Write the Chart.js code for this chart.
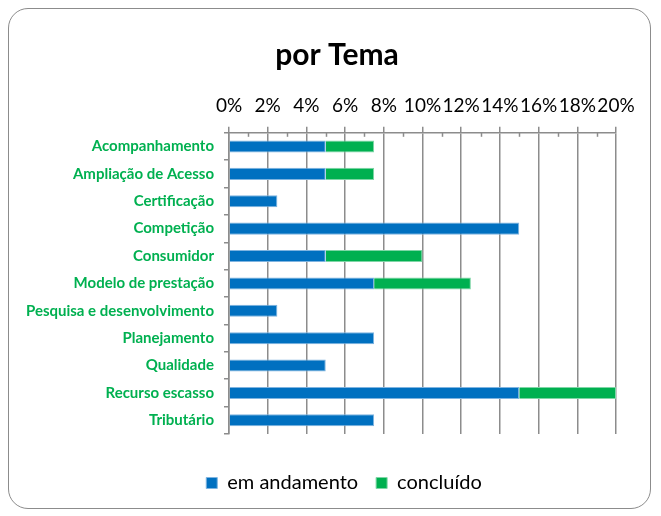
<!DOCTYPE html>
<html>
<head>
<meta charset="utf-8">
<script src="https://cdn.jsdelivr.net/npm/chart.js@4"></script>
<style>
  html, body { margin: 0; padding: 0; background: #fff; }
  #wrap { position: relative; width: 661px; height: 516px; }
  #frame { position: absolute; left: 8px; top: 8px; width: 643px; height: 501px;
           border: 1.5px solid #8c8c8c; border-radius: 20px; box-sizing: border-box; }
  canvas { position: absolute; left: 0; top: 0; }
</style>
</head>
<body>
<div id="wrap">
  <div id="frame"></div>
  <canvas id="myChart" width="661" height="516"></canvas>
</div>
<script>
var temas = ["Acompanhamento", "Ampliação de Acesso", "Certificação", "Competição", "Consumidor",
  "Modelo de prestação", "Pesquisa e desenvolvimento", "Planejamento", "Qualidade", "Recurso escasso", "Tributário"];
var emAndamento = [5, 5, 2.5, 15, 5, 7.5, 2.5, 7.5, 5, 15, 7.5];
var concluido = [2.5, 2.5, 0, 0, 5, 5, 0, 0, 0, 5, 0];
var seriesNames = ["em andamento", "concluído"];

var fontFam = "Lato, 'Open Sans', sans-serif";

// small minor ticks on top axis (every 1%)
var minorTicks = {
  id: "minorTicks",
  afterDraw: function (chart) {
    var c = chart.ctx, x = chart.scales.x, top = chart.chartArea.top;
    c.save();
    c.strokeStyle = "#8c8c8c";
    c.lineWidth = 1.5;
    for (var v = 1; v < 20; v += 2) {
      var px = Math.round(x.getPixelForValue(v)) + 0.5;
      c.beginPath();
      c.moveTo(px, top);
      c.lineTo(px, top + 4);
      c.stroke();
    }
    c.restore();
  }
};

// title and legend sit a bit to the right, like in the original sheet
var shiftBoxes = {
  id: "shiftBoxes",
  afterLayout: function (chart) {
    chart.titleBlock.left = 58;
    chart.legend.left = 72;
  }
};

var ctx = document.getElementById("myChart");
var chart = new Chart(ctx, {
  type: "bar",
  data: {
    labels: temas,
    datasets: [
      { label: seriesNames[0], data: emAndamento, backgroundColor: "#0070C0", borderColor: "#7fb4e0", borderWidth: 1,
        barPercentage: 0.44, categoryPercentage: 1 },
      { label: seriesNames[1], data: concluido, backgroundColor: "#00B050", borderColor: "#7fd6a6", borderWidth: 1,
        barPercentage: 0.44, categoryPercentage: 1 }
    ]
  },
  options: {
    indexAxis: "y",
    responsive: false,
    animation: false,
    layout: { padding: { left: 10, right: 45, top: 8, bottom: 13 } },
    plugins: {
      title: { display: true, text: "por Tema", color: "#000",
        font: { family: fontFam, size: 30, weight: "bold" }, padding: { top: 29, bottom: 11 } },
      legend: { position: "bottom",
        labels: { boxWidth: 11, boxHeight: 11, color: "#000", padding: 18,
          font: { family: fontFam, size: 20 } } },
      tooltip: { enabled: false }
    },
    scales: {
      x: {
        position: "top", stacked: true, min: 0, max: 20,
        ticks: { stepSize: 2, color: "#000", padding: 10, autoSkip: false, maxRotation: 0,
          font: { family: fontFam, size: 19 },
          callback: function (v) { return v + "%"; } },
        grid: { color: "#8c8c8c", lineWidth: 1.5, tickLength: 6 },
        border: { color: "#8c8c8c", width: 1.5 }
      },
      x2: {
        type: "linear", position: "bottom", display: true,
        ticks: { display: false }, grid: { display: false }, border: { display: false },
        afterFit: function (s) { s.height = 21; }
      },
      y: {
        stacked: true,
        ticks: { color: "#00B050", padding: 10, font: { family: fontFam, size: 15, weight: "bold" } },
        grid: { offset: true, drawOnChartArea: false, color: "#8c8c8c", lineWidth: 1.5, tickLength: 5 },
        border: { color: "#8c8c8c", width: 1.5 },
        afterFit: function (s) { s.width = 219; }
      }
    }
  },
  plugins: [minorTicks, shiftBoxes]
});
</script>
</body>
</html>
